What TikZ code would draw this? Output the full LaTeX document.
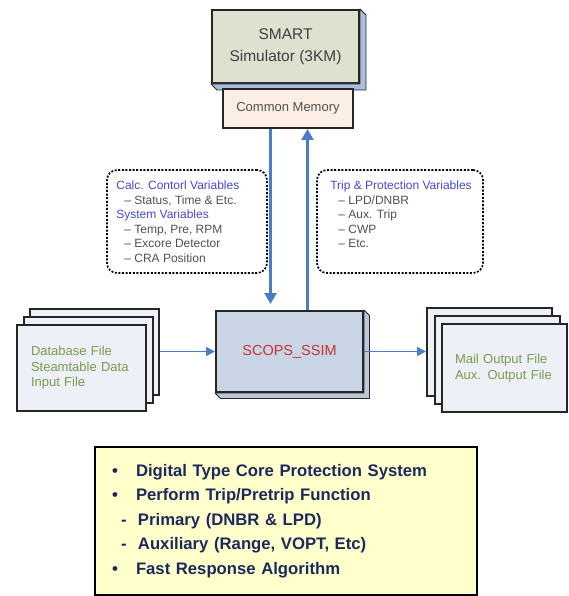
\documentclass[tikz,border=0pt]{standalone}
\usepackage{fontspec}
\setmainfont{Liberation Sans}
\usetikzlibrary{
  arrows.meta,
  calc,
  positioning
}
\definecolor{smartFill}{HTML}{DCE2CF}
\definecolor{smartSide}{HTML}{A9BEDC}
\definecolor{memoryFill}{HTML}{FCEEE5}
\definecolor{scopsFill}{HTML}{C9D5E5}
\definecolor{scopsSide}{HTML}{BCC8D8}
\definecolor{sheetFill}{HTML}{EDF0F6}
\definecolor{sheetText}{HTML}{7B9A4C}
\definecolor{headBlue}{HTML}{4747D6}
\definecolor{plainText}{HTML}{505050}
\definecolor{flowBlue}{HTML}{4A7CCB}
\definecolor{noteFill}{HTML}{FFFFCC}
\definecolor{noteText}{HTML}{1B2A5C}
\definecolor{scopsText}{HTML}{C83232}
\colorlet{frameGrey}{black!85}
\tikzset{
  every block/.style={draw=frameGrey,line width=2pt,inner sep=0pt},
  every sheet/.style={every block,fill=sheetFill,align=left,
    font=\fontsize{13}{15.5}\selectfont,text=sheetText},
  every frame/.style={draw=black,line width=1.7pt,dash pattern=on 2pt off 1.6pt,
    rounded corners=10pt},
  var text/.style={inner sep=0pt,align=left,text=plainText,
    font=\fontsize{12}{14.6}\selectfont},
  flow/.style={draw=flowBlue,line width=1.7pt,-{Triangle[length=9pt,width=9pt]}},
  updown/.style={flow,line width=2.3pt,-{Triangle[length=11pt,width=12pt]}},
}
\newcommand\DrawExtrusion[3]{% node, depth, side colour
  \filldraw[fill=#3,draw=frameGrey,line width=0.8pt,line join=round]
    (#1.north east) -- ++(#2,#2) -- ($(#1.south east)+(#2,#2)$)
    -- ($(#1.south west)+(#2,#2)$) -- (#1.south west) -- (#1.south east) -- cycle;
}
\newcommand\head[1]{\textcolor{headBlue}{#1}}
\newcommand\sub{\hspace*{8pt}–\space}

\begin{document}
\begin{tikzpicture}[x=1pt,y=-1pt]
\useasboundingbox (0,0) rectangle (568,596);

% simulator and shared memory
\node[every block,fill=smartFill,minimum width=147pt,minimum height=73pt,
  align=center,text=black!75,font=\fontsize{15.5}{22}\selectfont]
  (smart) at (285.5,46.5) {SMART\\Simulator (3KM)};
\DrawExtrusion{smart}{6}{smartSide}
\node[every block,fill=memoryFill,minimum width=130pt,minimum height=39pt,
  text=plainText,font=\fontsize{13}{15}\selectfont]
  (memory) at (288,108.5) {Common Memory};

% core block
\node[every block,fill=scopsFill,minimum width=147pt,minimum height=81pt,
  text=scopsText,font=\fontsize{14.5}{17}\selectfont]
  (scops) at (289.5,351.5) {SCOPS\_SSIM};
\DrawExtrusion{scops}{5.5}{scopsSide}

% variable frames
\node[every frame,minimum width=160pt,minimum height=103pt] (ctrlFrame) at (187,221.5) {};
\node[var text,anchor=north west] (ctrlText) at ($(ctrlFrame.north west)+(10,11.5)$)
  {\head{Calc. Contorl Variables}\\\sub Status, Time \& Etc.\\
   \head{System Variables}\\\sub Temp, Pre, RPM\\\sub Excore Detector\\\sub CRA Position};
\node[every frame,minimum width=166pt,minimum height=103pt] (tripFrame) at (400,221.5) {};
\node[var text,anchor=north west] (tripText) at ($(tripFrame.north west)+(14,11.5)$)
  {\head{Trip \& Protection Variables}\\\sub LPD/DNBR\\\sub Aux. Trip\\\sub CWP\\\sub Etc.};

% input and output sheets
\foreach \k in {2,1}
  \node[every sheet,minimum width=129pt,minimum height=86pt]
    (dbCopy\k) at ($(81.5,368)+(\k*6.5,-\k*8)$) {};
\node[every sheet,minimum width=129pt,minimum height=86pt,text width=101pt,inner xsep=14pt]
  (dbSheet) at (81.5,368) {Database File\\Steamtable Data\\Input File};
\foreach \k in {2,1}
  \node[every sheet,minimum width=125pt,minimum height=88pt]
    (outCopy\k) at ($(504.5,368)+(-\k*7.5,-\k*8)$) {};
\node[every sheet,minimum width=125pt,minimum height=88pt,text width=99pt,inner xsep=13pt]
  (outSheet) at (504.5,368) {Mail Output File\\Aux. Output File};

% data flow
\coordinate (downX) at (270.5,0);
\coordinate (upX) at (307.5,0);
\draw[updown,shorten >=6pt] (memory.south -| downX) -- (scops.north -| downX);
\draw[updown] (scops.north -| upX) -- (memory.south -| upX);
\draw[flow] (dbCopy2.east |- scops.west) -- (scops.west);
\draw[flow] (scops.east) -- (outCopy2.west |- scops.east);

% summary
\node[draw=black,line width=2pt,fill=noteFill,minimum width=382pt,minimum height=148pt,
  text width=348pt,inner xsep=17pt,align=left,text=noteText,
  font=\fontsize{16.7}{24.5}\selectfont\bfseries]
  (note) at (286,521)
  {\makebox[24pt][l]{•}Digital Type Core Protection System\\
   \makebox[24pt][l]{•}Perform Trip/Pretrip Function\\
   \hspace*{9pt}\makebox[17pt][l]{-}Primary (DNBR \& LPD)\\
   \hspace*{9pt}\makebox[17pt][l]{-}Auxiliary (Range, VOPT, Etc)\\
   \makebox[24pt][l]{•}Fast Response Algorithm};
\end{tikzpicture}
\end{document}
